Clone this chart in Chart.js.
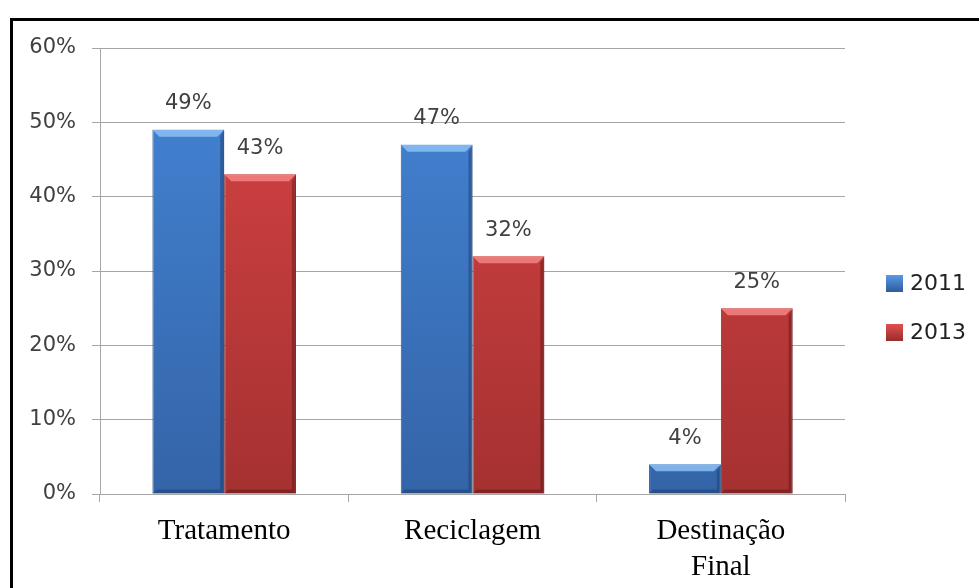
<!DOCTYPE html>
<html>
<head>
<meta charset="utf-8">
<script src="https://cdn.jsdelivr.net/npm/chart.js@4"></script>
<style>
  html, body { margin: 0; padding: 0; background: #fff; overflow: hidden; }
  #wrap { position: relative; width: 979px; height: 588px; }
  #frame { position: absolute; left: 10px; top: 18px; width: 1000px; height: 600px; border: 3px solid #000; box-sizing: border-box; }
  canvas { position: absolute; left: 0; top: 0; }
</style>
</head>
<body>
<div id="wrap">
  <div id="frame"></div>
  <canvas id="chart" width="979" height="588"></canvas>
</div>
<script>
// --- Data ---
const categories = ['Tratamento', 'Reciclagem', ['Destinação', 'Final']];
const seriesNames = ['2011', '2013'];
const values2011 = [49, 47, 4];
const values2013 = [43, 32, 25];
const yTicks = [0, 10, 20, 30, 40, 50, 60];

const sansFont = "'DejaVu Sans', sans-serif";

function barGradient(top, bottom) {
    return (ctx) => {
        const area = ctx.chart.chartArea;
        if (!area) return top;
        const g = ctx.chart.ctx.createLinearGradient(0, area.top, 0, area.bottom);
        g.addColorStop(0, top);
        g.addColorStop(1, bottom);
        return g;
    };
}

// bevel look: light top edge, dark right and bottom edges
const bevel = {
    id: 'bevel',
    afterDatasetsDraw(chart) {
        const ctx = chart.ctx;
        const tones = [
            { light: 'rgba(140,190,245,0.85)', dark: 'rgba(25,55,100,0.45)' },
            { light: 'rgba(245,130,130,0.85)', dark: 'rgba(90,20,20,0.45)' }
        ];
        ctx.save();
        chart.data.datasets.forEach((ds, i) => {
            chart.getDatasetMeta(i).data.forEach((bar) => {
                const l = bar.x - bar.width / 2, r = bar.x + bar.width / 2;
                const t = bar.y, b = bar.base;
                const d = Math.min(7, (b - t) / 2);
                // top bevel
                ctx.fillStyle = tones[i].light;
                ctx.beginPath();
                ctx.moveTo(l, t); ctx.lineTo(r, t); ctx.lineTo(r - d, t + d); ctx.lineTo(l + d, t + d);
                ctx.closePath(); ctx.fill();
                // right bevel
                ctx.fillStyle = tones[i].dark;
                ctx.beginPath();
                ctx.moveTo(r, t); ctx.lineTo(r, b); ctx.lineTo(r - 4, b - 4); ctx.lineTo(r - 4, t + d);
                ctx.closePath(); ctx.fill();
                // bottom bevel
                ctx.beginPath();
                ctx.moveTo(l, b); ctx.lineTo(r, b); ctx.lineTo(r - 4, b - 4); ctx.lineTo(l + 4, b - 4);
                ctx.closePath(); ctx.fill();
            });
        });
        ctx.restore();
    }
};

// value labels above each bar
const valueLabels = {
    id: 'valueLabels',
    afterDatasetsDraw(chart) {
        const ctx = chart.ctx;
        ctx.save();
        ctx.font = '21px ' + sansFont;
        ctx.fillStyle = '#404040';
        ctx.textAlign = 'center';
        ctx.textBaseline = 'middle';
        chart.data.datasets.forEach((ds, i) => {
            chart.getDatasetMeta(i).data.forEach((bar, j) => {
                ctx.fillText(ds.data[j] + '%', bar.x, bar.y - 26);
            });
        });
        ctx.restore();
    }
};

// legend on the right
const sideLegend = {
    id: 'sideLegend',
    afterDraw(chart) {
        const ctx = chart.ctx;
        ctx.save();
        ctx.font = '22px ' + sansFont;
        ctx.textBaseline = 'middle';
        const swatch = [['#5a9ae6', '#2f5f9f'], ['#e25050', '#9c2e2e']];
        chart.data.datasets.forEach((ds, i) => {
            const y = 283 + i * 49;
            const g = ctx.createLinearGradient(0, y - 8, 0, y + 8);
            g.addColorStop(0, swatch[i][0]);
            g.addColorStop(1, swatch[i][1]);
            ctx.fillStyle = g;
            ctx.fillRect(886, y - 8, 17, 17);
            ctx.fillStyle = '#222';
            ctx.fillText(ds.label, 910, y + 1);
        });
        ctx.restore();
    }
};

new Chart(document.getElementById('chart'), {
    type: 'bar',
    data: {
        labels: categories,
        datasets: [
            {
                label: seriesNames[0],
                data: values2011,
                backgroundColor: barGradient('#4485d6', '#3464a8'),
                borderColor: '#2c5690',
                borderWidth: 1
            },
            {
                label: seriesNames[1],
                data: values2013,
                backgroundColor: barGradient('#d84444', '#a53131'),
                borderColor: '#8a2828',
                borderWidth: 1
            }
        ]
    },
    options: {
        responsive: false,
        animation: false,
        layout: { padding: { top: 48, right: 134, left: 0, bottom: 0 } },
        datasets: { bar: { barPercentage: 1, categoryPercentage: 0.578 } },
        scales: {
            x: {
                afterFit: (s) => { s.height = 94; },
                grid: { offset: true, drawOnChartArea: false, drawTicks: true, tickLength: 8, color: '#a6a6a6' },
                border: { color: '#a6a6a6', width: 1 },
                ticks: {
                    color: '#000',
                    padding: 12,
                    font: { family: "'Liberation Serif', 'Times New Roman', serif", size: 29, lineHeight: 1.22 },
                    maxRotation: 0
                }
            },
            y: {
                min: 0,
                max: 60,
                afterFit: (s) => { s.width = 100; },
                afterBuildTicks: (s) => { s.ticks = yTicks.map(v => ({ value: v })); },
                grid: { color: '#a6a6a6', tickLength: 8 },
                border: { color: '#a6a6a6', width: 1 },
                ticks: {
                    color: '#404040',
                    padding: 16,
                    font: { family: sansFont, size: 21 },
                    callback: (v) => v + '%'
                }
            }
        },
        plugins: {
            legend: { display: false },
            tooltip: { enabled: false }
        }
    },
    plugins: [bevel, valueLabels, sideLegend]
});
</script>
</body>
</html>
